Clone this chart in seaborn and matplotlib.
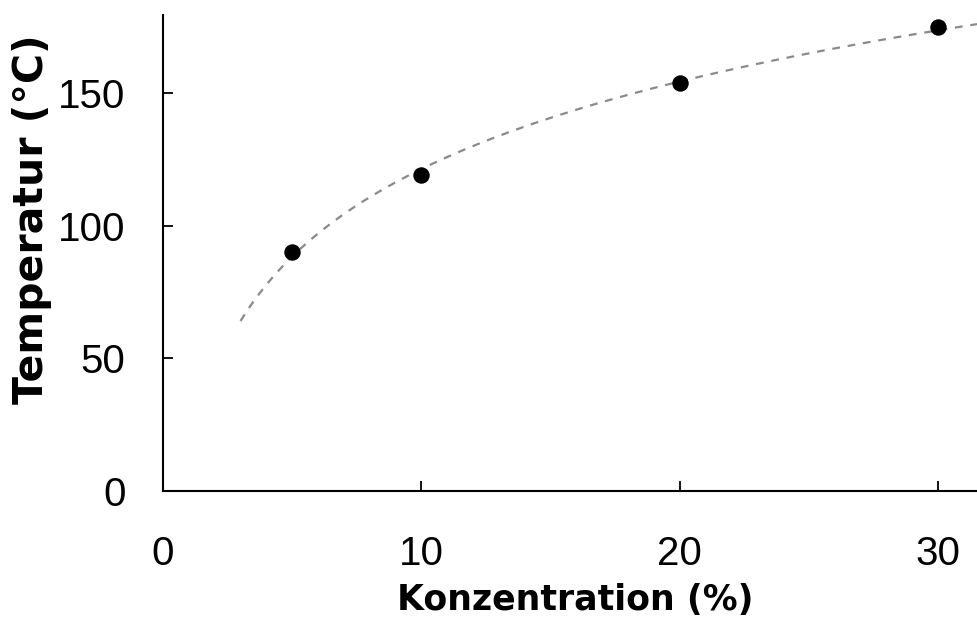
import numpy as np
import pandas as pd
import matplotlib
matplotlib.use("Agg")
import matplotlib.pyplot as plt
import seaborn as sns

# Measured points
konzentration = [5, 10, 20, 30]
temperatur = [90, 119, 154, 175]

x_ticks = [0, 10, 20, 30]
y_ticks = [0, 50, 100, 150]

sns.set_theme(style="white")
plt.rcParams["font.family"] = ["Liberation Sans", "DejaVu Sans"]

df = pd.DataFrame({"Konzentration": konzentration, "Temperatur": temperatur})

# Logarithmic trend line fitted to the measurements
b, a = np.polyfit(np.log(df["Konzentration"]), df["Temperatur"], 1)
trend_x = np.linspace(3, 31.5, 200)
trend = pd.DataFrame({"Konzentration": trend_x, "Temperatur": a + b * np.log(trend_x)})

fig = plt.figure(figsize=(9.77, 6.18), dpi=100)
ax = fig.add_axes([163 / 977, 1 - 491 / 618, 814 / 977, 476 / 618])

sns.lineplot(data=trend, x="Konzentration", y="Temperatur", ax=ax,
             color="#8a8a8a", linewidth=1.6, linestyle=(0, (3.5, 3.5)))
sns.scatterplot(data=df, x="Konzentration", y="Temperatur", ax=ax,
                color="black", s=140, edgecolor="black", linewidth=0, zorder=3)

ax.set_xlim(0, 31.5)
ax.set_ylim(0, 179.5)
ax.set_xticks(x_ticks)
ax.set_yticks(y_ticks)

for side in ("top", "right"):
    ax.spines[side].set_visible(False)
for side in ("left", "bottom"):
    ax.spines[side].set_color("black")
    ax.spines[side].set_linewidth(1.5)

ax.tick_params(axis="both", direction="in", length=7, width=1.3, color="black",
               labelsize=29, labelcolor="black", bottom=True, left=True)
ax.tick_params(axis="x", pad=32)
ax.tick_params(axis="y", pad=27)

label_font = dict(family="DejaVu Sans", fontweight="bold", color="black")
ax.set_xlabel("Konzentration (%)", fontsize=25, va="center", **label_font)
ax.set_ylabel("Temperatur (°C)", fontsize=29.5, va="center", **label_font)
ax.xaxis.set_label_coords(0.507, -0.23)
ax.yaxis.set_label_coords(-0.161, 0.572)

fig.savefig("out.png", dpi=100, facecolor="white")
